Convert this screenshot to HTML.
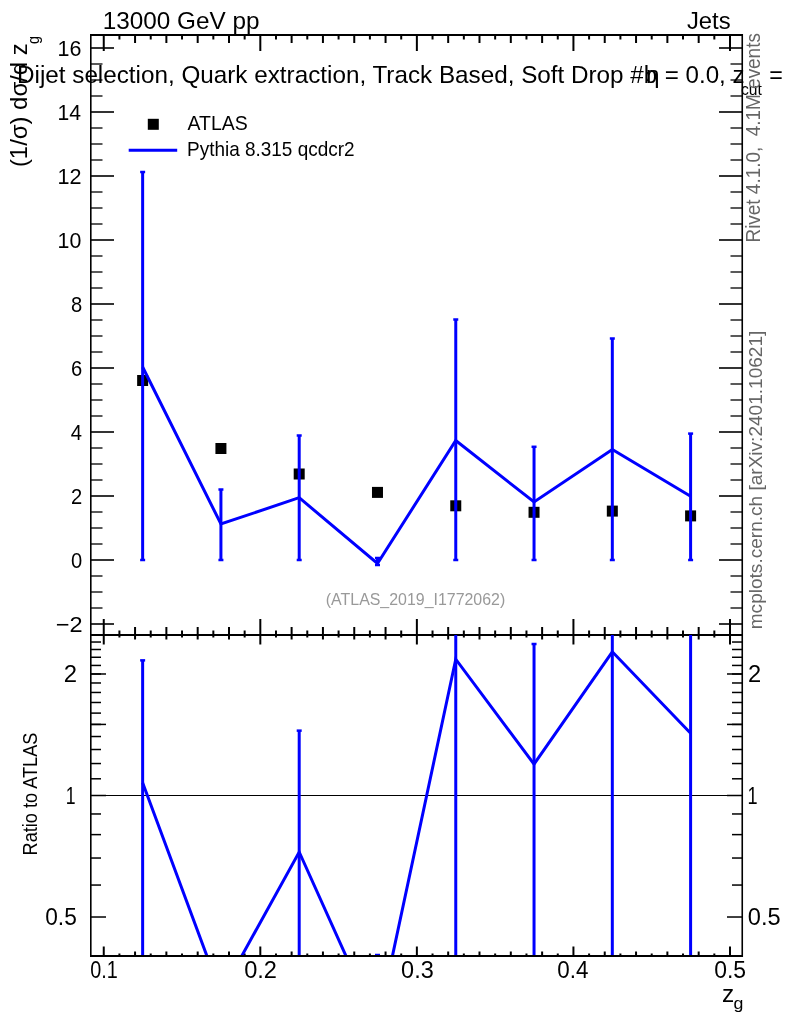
<!DOCTYPE html>
<html><head><meta charset="utf-8"><title>plot</title><style>html,body{margin:0;padding:0;background:#fff;}svg{display:block;}</style></head><body>
<svg width="786" height="1024" viewBox="0 0 786 1024" font-family="'Liberation Sans', Arial, sans-serif">
<rect width="786" height="1024" fill="#fff"/>
<g><line x1="91.00" y1="624.00" x2="114.00" y2="624.00" stroke="#000" stroke-width="1.6"/><line x1="742.00" y1="624.00" x2="719.00" y2="624.00" stroke="#000" stroke-width="1.6"/><line x1="91.00" y1="608.00" x2="102.50" y2="608.00" stroke="#000" stroke-width="1.3"/><line x1="742.00" y1="608.00" x2="730.50" y2="608.00" stroke="#000" stroke-width="1.3"/><line x1="91.00" y1="592.00" x2="102.50" y2="592.00" stroke="#000" stroke-width="1.3"/><line x1="742.00" y1="592.00" x2="730.50" y2="592.00" stroke="#000" stroke-width="1.3"/><line x1="91.00" y1="576.00" x2="102.50" y2="576.00" stroke="#000" stroke-width="1.3"/><line x1="742.00" y1="576.00" x2="730.50" y2="576.00" stroke="#000" stroke-width="1.3"/><line x1="91.00" y1="560.00" x2="114.00" y2="560.00" stroke="#000" stroke-width="1.6"/><line x1="742.00" y1="560.00" x2="719.00" y2="560.00" stroke="#000" stroke-width="1.6"/><line x1="91.00" y1="544.00" x2="102.50" y2="544.00" stroke="#000" stroke-width="1.3"/><line x1="742.00" y1="544.00" x2="730.50" y2="544.00" stroke="#000" stroke-width="1.3"/><line x1="91.00" y1="528.00" x2="102.50" y2="528.00" stroke="#000" stroke-width="1.3"/><line x1="742.00" y1="528.00" x2="730.50" y2="528.00" stroke="#000" stroke-width="1.3"/><line x1="91.00" y1="512.00" x2="102.50" y2="512.00" stroke="#000" stroke-width="1.3"/><line x1="742.00" y1="512.00" x2="730.50" y2="512.00" stroke="#000" stroke-width="1.3"/><line x1="91.00" y1="496.00" x2="114.00" y2="496.00" stroke="#000" stroke-width="1.6"/><line x1="742.00" y1="496.00" x2="719.00" y2="496.00" stroke="#000" stroke-width="1.6"/><line x1="91.00" y1="480.00" x2="102.50" y2="480.00" stroke="#000" stroke-width="1.3"/><line x1="742.00" y1="480.00" x2="730.50" y2="480.00" stroke="#000" stroke-width="1.3"/><line x1="91.00" y1="464.00" x2="102.50" y2="464.00" stroke="#000" stroke-width="1.3"/><line x1="742.00" y1="464.00" x2="730.50" y2="464.00" stroke="#000" stroke-width="1.3"/><line x1="91.00" y1="448.00" x2="102.50" y2="448.00" stroke="#000" stroke-width="1.3"/><line x1="742.00" y1="448.00" x2="730.50" y2="448.00" stroke="#000" stroke-width="1.3"/><line x1="91.00" y1="432.00" x2="114.00" y2="432.00" stroke="#000" stroke-width="1.6"/><line x1="742.00" y1="432.00" x2="719.00" y2="432.00" stroke="#000" stroke-width="1.6"/><line x1="91.00" y1="416.00" x2="102.50" y2="416.00" stroke="#000" stroke-width="1.3"/><line x1="742.00" y1="416.00" x2="730.50" y2="416.00" stroke="#000" stroke-width="1.3"/><line x1="91.00" y1="400.00" x2="102.50" y2="400.00" stroke="#000" stroke-width="1.3"/><line x1="742.00" y1="400.00" x2="730.50" y2="400.00" stroke="#000" stroke-width="1.3"/><line x1="91.00" y1="384.00" x2="102.50" y2="384.00" stroke="#000" stroke-width="1.3"/><line x1="742.00" y1="384.00" x2="730.50" y2="384.00" stroke="#000" stroke-width="1.3"/><line x1="91.00" y1="368.00" x2="114.00" y2="368.00" stroke="#000" stroke-width="1.6"/><line x1="742.00" y1="368.00" x2="719.00" y2="368.00" stroke="#000" stroke-width="1.6"/><line x1="91.00" y1="352.00" x2="102.50" y2="352.00" stroke="#000" stroke-width="1.3"/><line x1="742.00" y1="352.00" x2="730.50" y2="352.00" stroke="#000" stroke-width="1.3"/><line x1="91.00" y1="336.00" x2="102.50" y2="336.00" stroke="#000" stroke-width="1.3"/><line x1="742.00" y1="336.00" x2="730.50" y2="336.00" stroke="#000" stroke-width="1.3"/><line x1="91.00" y1="320.00" x2="102.50" y2="320.00" stroke="#000" stroke-width="1.3"/><line x1="742.00" y1="320.00" x2="730.50" y2="320.00" stroke="#000" stroke-width="1.3"/><line x1="91.00" y1="304.00" x2="114.00" y2="304.00" stroke="#000" stroke-width="1.6"/><line x1="742.00" y1="304.00" x2="719.00" y2="304.00" stroke="#000" stroke-width="1.6"/><line x1="91.00" y1="288.00" x2="102.50" y2="288.00" stroke="#000" stroke-width="1.3"/><line x1="742.00" y1="288.00" x2="730.50" y2="288.00" stroke="#000" stroke-width="1.3"/><line x1="91.00" y1="272.00" x2="102.50" y2="272.00" stroke="#000" stroke-width="1.3"/><line x1="742.00" y1="272.00" x2="730.50" y2="272.00" stroke="#000" stroke-width="1.3"/><line x1="91.00" y1="256.00" x2="102.50" y2="256.00" stroke="#000" stroke-width="1.3"/><line x1="742.00" y1="256.00" x2="730.50" y2="256.00" stroke="#000" stroke-width="1.3"/><line x1="91.00" y1="240.00" x2="114.00" y2="240.00" stroke="#000" stroke-width="1.6"/><line x1="742.00" y1="240.00" x2="719.00" y2="240.00" stroke="#000" stroke-width="1.6"/><line x1="91.00" y1="224.00" x2="102.50" y2="224.00" stroke="#000" stroke-width="1.3"/><line x1="742.00" y1="224.00" x2="730.50" y2="224.00" stroke="#000" stroke-width="1.3"/><line x1="91.00" y1="208.00" x2="102.50" y2="208.00" stroke="#000" stroke-width="1.3"/><line x1="742.00" y1="208.00" x2="730.50" y2="208.00" stroke="#000" stroke-width="1.3"/><line x1="91.00" y1="192.00" x2="102.50" y2="192.00" stroke="#000" stroke-width="1.3"/><line x1="742.00" y1="192.00" x2="730.50" y2="192.00" stroke="#000" stroke-width="1.3"/><line x1="91.00" y1="176.00" x2="114.00" y2="176.00" stroke="#000" stroke-width="1.6"/><line x1="742.00" y1="176.00" x2="719.00" y2="176.00" stroke="#000" stroke-width="1.6"/><line x1="91.00" y1="160.00" x2="102.50" y2="160.00" stroke="#000" stroke-width="1.3"/><line x1="742.00" y1="160.00" x2="730.50" y2="160.00" stroke="#000" stroke-width="1.3"/><line x1="91.00" y1="144.00" x2="102.50" y2="144.00" stroke="#000" stroke-width="1.3"/><line x1="742.00" y1="144.00" x2="730.50" y2="144.00" stroke="#000" stroke-width="1.3"/><line x1="91.00" y1="128.00" x2="102.50" y2="128.00" stroke="#000" stroke-width="1.3"/><line x1="742.00" y1="128.00" x2="730.50" y2="128.00" stroke="#000" stroke-width="1.3"/><line x1="91.00" y1="112.00" x2="114.00" y2="112.00" stroke="#000" stroke-width="1.6"/><line x1="742.00" y1="112.00" x2="719.00" y2="112.00" stroke="#000" stroke-width="1.6"/><line x1="91.00" y1="96.00" x2="102.50" y2="96.00" stroke="#000" stroke-width="1.3"/><line x1="742.00" y1="96.00" x2="730.50" y2="96.00" stroke="#000" stroke-width="1.3"/><line x1="91.00" y1="80.00" x2="102.50" y2="80.00" stroke="#000" stroke-width="1.3"/><line x1="742.00" y1="80.00" x2="730.50" y2="80.00" stroke="#000" stroke-width="1.3"/><line x1="91.00" y1="64.00" x2="102.50" y2="64.00" stroke="#000" stroke-width="1.3"/><line x1="742.00" y1="64.00" x2="730.50" y2="64.00" stroke="#000" stroke-width="1.3"/><line x1="91.00" y1="48.00" x2="114.00" y2="48.00" stroke="#000" stroke-width="1.6"/><line x1="742.00" y1="48.00" x2="719.00" y2="48.00" stroke="#000" stroke-width="1.6"/><line x1="103.75" y1="35.00" x2="103.75" y2="51.00" stroke="#000" stroke-width="2"/><line x1="103.75" y1="635.00" x2="103.75" y2="619.00" stroke="#000" stroke-width="2"/><line x1="103.75" y1="635.00" x2="103.75" y2="644.50" stroke="#000" stroke-width="2"/><line x1="103.75" y1="956.00" x2="103.75" y2="946.50" stroke="#000" stroke-width="2"/><line x1="119.41" y1="35.00" x2="119.41" y2="39.50" stroke="#000" stroke-width="2"/><line x1="119.41" y1="635.00" x2="119.41" y2="630.50" stroke="#000" stroke-width="2"/><line x1="119.41" y1="635.00" x2="119.41" y2="637.50" stroke="#000" stroke-width="2"/><line x1="119.41" y1="956.00" x2="119.41" y2="953.50" stroke="#000" stroke-width="2"/><line x1="135.06" y1="35.00" x2="135.06" y2="43.00" stroke="#000" stroke-width="2"/><line x1="135.06" y1="635.00" x2="135.06" y2="627.00" stroke="#000" stroke-width="2"/><line x1="135.06" y1="635.00" x2="135.06" y2="639.50" stroke="#000" stroke-width="2"/><line x1="135.06" y1="956.00" x2="135.06" y2="951.50" stroke="#000" stroke-width="2"/><line x1="150.72" y1="35.00" x2="150.72" y2="39.50" stroke="#000" stroke-width="2"/><line x1="150.72" y1="635.00" x2="150.72" y2="630.50" stroke="#000" stroke-width="2"/><line x1="150.72" y1="635.00" x2="150.72" y2="637.50" stroke="#000" stroke-width="2"/><line x1="150.72" y1="956.00" x2="150.72" y2="953.50" stroke="#000" stroke-width="2"/><line x1="166.37" y1="35.00" x2="166.37" y2="43.00" stroke="#000" stroke-width="2"/><line x1="166.37" y1="635.00" x2="166.37" y2="627.00" stroke="#000" stroke-width="2"/><line x1="166.37" y1="635.00" x2="166.37" y2="639.50" stroke="#000" stroke-width="2"/><line x1="166.37" y1="956.00" x2="166.37" y2="951.50" stroke="#000" stroke-width="2"/><line x1="182.03" y1="35.00" x2="182.03" y2="39.50" stroke="#000" stroke-width="2"/><line x1="182.03" y1="635.00" x2="182.03" y2="630.50" stroke="#000" stroke-width="2"/><line x1="182.03" y1="635.00" x2="182.03" y2="637.50" stroke="#000" stroke-width="2"/><line x1="182.03" y1="956.00" x2="182.03" y2="953.50" stroke="#000" stroke-width="2"/><line x1="197.69" y1="35.00" x2="197.69" y2="43.00" stroke="#000" stroke-width="2"/><line x1="197.69" y1="635.00" x2="197.69" y2="627.00" stroke="#000" stroke-width="2"/><line x1="197.69" y1="635.00" x2="197.69" y2="639.50" stroke="#000" stroke-width="2"/><line x1="197.69" y1="956.00" x2="197.69" y2="951.50" stroke="#000" stroke-width="2"/><line x1="213.34" y1="35.00" x2="213.34" y2="39.50" stroke="#000" stroke-width="2"/><line x1="213.34" y1="635.00" x2="213.34" y2="630.50" stroke="#000" stroke-width="2"/><line x1="213.34" y1="635.00" x2="213.34" y2="637.50" stroke="#000" stroke-width="2"/><line x1="213.34" y1="956.00" x2="213.34" y2="953.50" stroke="#000" stroke-width="2"/><line x1="229.00" y1="35.00" x2="229.00" y2="43.00" stroke="#000" stroke-width="2"/><line x1="229.00" y1="635.00" x2="229.00" y2="627.00" stroke="#000" stroke-width="2"/><line x1="229.00" y1="635.00" x2="229.00" y2="639.50" stroke="#000" stroke-width="2"/><line x1="229.00" y1="956.00" x2="229.00" y2="951.50" stroke="#000" stroke-width="2"/><line x1="244.65" y1="35.00" x2="244.65" y2="39.50" stroke="#000" stroke-width="2"/><line x1="244.65" y1="635.00" x2="244.65" y2="630.50" stroke="#000" stroke-width="2"/><line x1="244.65" y1="635.00" x2="244.65" y2="637.50" stroke="#000" stroke-width="2"/><line x1="244.65" y1="956.00" x2="244.65" y2="953.50" stroke="#000" stroke-width="2"/><line x1="260.31" y1="35.00" x2="260.31" y2="51.00" stroke="#000" stroke-width="2"/><line x1="260.31" y1="635.00" x2="260.31" y2="619.00" stroke="#000" stroke-width="2"/><line x1="260.31" y1="635.00" x2="260.31" y2="644.50" stroke="#000" stroke-width="2"/><line x1="260.31" y1="956.00" x2="260.31" y2="946.50" stroke="#000" stroke-width="2"/><line x1="275.97" y1="35.00" x2="275.97" y2="39.50" stroke="#000" stroke-width="2"/><line x1="275.97" y1="635.00" x2="275.97" y2="630.50" stroke="#000" stroke-width="2"/><line x1="275.97" y1="635.00" x2="275.97" y2="637.50" stroke="#000" stroke-width="2"/><line x1="275.97" y1="956.00" x2="275.97" y2="953.50" stroke="#000" stroke-width="2"/><line x1="291.62" y1="35.00" x2="291.62" y2="43.00" stroke="#000" stroke-width="2"/><line x1="291.62" y1="635.00" x2="291.62" y2="627.00" stroke="#000" stroke-width="2"/><line x1="291.62" y1="635.00" x2="291.62" y2="639.50" stroke="#000" stroke-width="2"/><line x1="291.62" y1="956.00" x2="291.62" y2="951.50" stroke="#000" stroke-width="2"/><line x1="307.28" y1="35.00" x2="307.28" y2="39.50" stroke="#000" stroke-width="2"/><line x1="307.28" y1="635.00" x2="307.28" y2="630.50" stroke="#000" stroke-width="2"/><line x1="307.28" y1="635.00" x2="307.28" y2="637.50" stroke="#000" stroke-width="2"/><line x1="307.28" y1="956.00" x2="307.28" y2="953.50" stroke="#000" stroke-width="2"/><line x1="322.93" y1="35.00" x2="322.93" y2="43.00" stroke="#000" stroke-width="2"/><line x1="322.93" y1="635.00" x2="322.93" y2="627.00" stroke="#000" stroke-width="2"/><line x1="322.93" y1="635.00" x2="322.93" y2="639.50" stroke="#000" stroke-width="2"/><line x1="322.93" y1="956.00" x2="322.93" y2="951.50" stroke="#000" stroke-width="2"/><line x1="338.59" y1="35.00" x2="338.59" y2="39.50" stroke="#000" stroke-width="2"/><line x1="338.59" y1="635.00" x2="338.59" y2="630.50" stroke="#000" stroke-width="2"/><line x1="338.59" y1="635.00" x2="338.59" y2="637.50" stroke="#000" stroke-width="2"/><line x1="338.59" y1="956.00" x2="338.59" y2="953.50" stroke="#000" stroke-width="2"/><line x1="354.25" y1="35.00" x2="354.25" y2="43.00" stroke="#000" stroke-width="2"/><line x1="354.25" y1="635.00" x2="354.25" y2="627.00" stroke="#000" stroke-width="2"/><line x1="354.25" y1="635.00" x2="354.25" y2="639.50" stroke="#000" stroke-width="2"/><line x1="354.25" y1="956.00" x2="354.25" y2="951.50" stroke="#000" stroke-width="2"/><line x1="369.90" y1="35.00" x2="369.90" y2="39.50" stroke="#000" stroke-width="2"/><line x1="369.90" y1="635.00" x2="369.90" y2="630.50" stroke="#000" stroke-width="2"/><line x1="369.90" y1="635.00" x2="369.90" y2="637.50" stroke="#000" stroke-width="2"/><line x1="369.90" y1="956.00" x2="369.90" y2="953.50" stroke="#000" stroke-width="2"/><line x1="385.56" y1="35.00" x2="385.56" y2="43.00" stroke="#000" stroke-width="2"/><line x1="385.56" y1="635.00" x2="385.56" y2="627.00" stroke="#000" stroke-width="2"/><line x1="385.56" y1="635.00" x2="385.56" y2="639.50" stroke="#000" stroke-width="2"/><line x1="385.56" y1="956.00" x2="385.56" y2="951.50" stroke="#000" stroke-width="2"/><line x1="401.21" y1="35.00" x2="401.21" y2="39.50" stroke="#000" stroke-width="2"/><line x1="401.21" y1="635.00" x2="401.21" y2="630.50" stroke="#000" stroke-width="2"/><line x1="401.21" y1="635.00" x2="401.21" y2="637.50" stroke="#000" stroke-width="2"/><line x1="401.21" y1="956.00" x2="401.21" y2="953.50" stroke="#000" stroke-width="2"/><line x1="416.87" y1="35.00" x2="416.87" y2="51.00" stroke="#000" stroke-width="2"/><line x1="416.87" y1="635.00" x2="416.87" y2="619.00" stroke="#000" stroke-width="2"/><line x1="416.87" y1="635.00" x2="416.87" y2="644.50" stroke="#000" stroke-width="2"/><line x1="416.87" y1="956.00" x2="416.87" y2="946.50" stroke="#000" stroke-width="2"/><line x1="432.53" y1="35.00" x2="432.53" y2="39.50" stroke="#000" stroke-width="2"/><line x1="432.53" y1="635.00" x2="432.53" y2="630.50" stroke="#000" stroke-width="2"/><line x1="432.53" y1="635.00" x2="432.53" y2="637.50" stroke="#000" stroke-width="2"/><line x1="432.53" y1="956.00" x2="432.53" y2="953.50" stroke="#000" stroke-width="2"/><line x1="448.18" y1="35.00" x2="448.18" y2="43.00" stroke="#000" stroke-width="2"/><line x1="448.18" y1="635.00" x2="448.18" y2="627.00" stroke="#000" stroke-width="2"/><line x1="448.18" y1="635.00" x2="448.18" y2="639.50" stroke="#000" stroke-width="2"/><line x1="448.18" y1="956.00" x2="448.18" y2="951.50" stroke="#000" stroke-width="2"/><line x1="463.84" y1="35.00" x2="463.84" y2="39.50" stroke="#000" stroke-width="2"/><line x1="463.84" y1="635.00" x2="463.84" y2="630.50" stroke="#000" stroke-width="2"/><line x1="463.84" y1="635.00" x2="463.84" y2="637.50" stroke="#000" stroke-width="2"/><line x1="463.84" y1="956.00" x2="463.84" y2="953.50" stroke="#000" stroke-width="2"/><line x1="479.49" y1="35.00" x2="479.49" y2="43.00" stroke="#000" stroke-width="2"/><line x1="479.49" y1="635.00" x2="479.49" y2="627.00" stroke="#000" stroke-width="2"/><line x1="479.49" y1="635.00" x2="479.49" y2="639.50" stroke="#000" stroke-width="2"/><line x1="479.49" y1="956.00" x2="479.49" y2="951.50" stroke="#000" stroke-width="2"/><line x1="495.15" y1="35.00" x2="495.15" y2="39.50" stroke="#000" stroke-width="2"/><line x1="495.15" y1="635.00" x2="495.15" y2="630.50" stroke="#000" stroke-width="2"/><line x1="495.15" y1="635.00" x2="495.15" y2="637.50" stroke="#000" stroke-width="2"/><line x1="495.15" y1="956.00" x2="495.15" y2="953.50" stroke="#000" stroke-width="2"/><line x1="510.81" y1="35.00" x2="510.81" y2="43.00" stroke="#000" stroke-width="2"/><line x1="510.81" y1="635.00" x2="510.81" y2="627.00" stroke="#000" stroke-width="2"/><line x1="510.81" y1="635.00" x2="510.81" y2="639.50" stroke="#000" stroke-width="2"/><line x1="510.81" y1="956.00" x2="510.81" y2="951.50" stroke="#000" stroke-width="2"/><line x1="526.46" y1="35.00" x2="526.46" y2="39.50" stroke="#000" stroke-width="2"/><line x1="526.46" y1="635.00" x2="526.46" y2="630.50" stroke="#000" stroke-width="2"/><line x1="526.46" y1="635.00" x2="526.46" y2="637.50" stroke="#000" stroke-width="2"/><line x1="526.46" y1="956.00" x2="526.46" y2="953.50" stroke="#000" stroke-width="2"/><line x1="542.12" y1="35.00" x2="542.12" y2="43.00" stroke="#000" stroke-width="2"/><line x1="542.12" y1="635.00" x2="542.12" y2="627.00" stroke="#000" stroke-width="2"/><line x1="542.12" y1="635.00" x2="542.12" y2="639.50" stroke="#000" stroke-width="2"/><line x1="542.12" y1="956.00" x2="542.12" y2="951.50" stroke="#000" stroke-width="2"/><line x1="557.77" y1="35.00" x2="557.77" y2="39.50" stroke="#000" stroke-width="2"/><line x1="557.77" y1="635.00" x2="557.77" y2="630.50" stroke="#000" stroke-width="2"/><line x1="557.77" y1="635.00" x2="557.77" y2="637.50" stroke="#000" stroke-width="2"/><line x1="557.77" y1="956.00" x2="557.77" y2="953.50" stroke="#000" stroke-width="2"/><line x1="573.43" y1="35.00" x2="573.43" y2="51.00" stroke="#000" stroke-width="2"/><line x1="573.43" y1="635.00" x2="573.43" y2="619.00" stroke="#000" stroke-width="2"/><line x1="573.43" y1="635.00" x2="573.43" y2="644.50" stroke="#000" stroke-width="2"/><line x1="573.43" y1="956.00" x2="573.43" y2="946.50" stroke="#000" stroke-width="2"/><line x1="589.09" y1="35.00" x2="589.09" y2="39.50" stroke="#000" stroke-width="2"/><line x1="589.09" y1="635.00" x2="589.09" y2="630.50" stroke="#000" stroke-width="2"/><line x1="589.09" y1="635.00" x2="589.09" y2="637.50" stroke="#000" stroke-width="2"/><line x1="589.09" y1="956.00" x2="589.09" y2="953.50" stroke="#000" stroke-width="2"/><line x1="604.74" y1="35.00" x2="604.74" y2="43.00" stroke="#000" stroke-width="2"/><line x1="604.74" y1="635.00" x2="604.74" y2="627.00" stroke="#000" stroke-width="2"/><line x1="604.74" y1="635.00" x2="604.74" y2="639.50" stroke="#000" stroke-width="2"/><line x1="604.74" y1="956.00" x2="604.74" y2="951.50" stroke="#000" stroke-width="2"/><line x1="620.40" y1="35.00" x2="620.40" y2="39.50" stroke="#000" stroke-width="2"/><line x1="620.40" y1="635.00" x2="620.40" y2="630.50" stroke="#000" stroke-width="2"/><line x1="620.40" y1="635.00" x2="620.40" y2="637.50" stroke="#000" stroke-width="2"/><line x1="620.40" y1="956.00" x2="620.40" y2="953.50" stroke="#000" stroke-width="2"/><line x1="636.05" y1="35.00" x2="636.05" y2="43.00" stroke="#000" stroke-width="2"/><line x1="636.05" y1="635.00" x2="636.05" y2="627.00" stroke="#000" stroke-width="2"/><line x1="636.05" y1="635.00" x2="636.05" y2="639.50" stroke="#000" stroke-width="2"/><line x1="636.05" y1="956.00" x2="636.05" y2="951.50" stroke="#000" stroke-width="2"/><line x1="651.71" y1="35.00" x2="651.71" y2="39.50" stroke="#000" stroke-width="2"/><line x1="651.71" y1="635.00" x2="651.71" y2="630.50" stroke="#000" stroke-width="2"/><line x1="651.71" y1="635.00" x2="651.71" y2="637.50" stroke="#000" stroke-width="2"/><line x1="651.71" y1="956.00" x2="651.71" y2="953.50" stroke="#000" stroke-width="2"/><line x1="667.37" y1="35.00" x2="667.37" y2="43.00" stroke="#000" stroke-width="2"/><line x1="667.37" y1="635.00" x2="667.37" y2="627.00" stroke="#000" stroke-width="2"/><line x1="667.37" y1="635.00" x2="667.37" y2="639.50" stroke="#000" stroke-width="2"/><line x1="667.37" y1="956.00" x2="667.37" y2="951.50" stroke="#000" stroke-width="2"/><line x1="683.02" y1="35.00" x2="683.02" y2="39.50" stroke="#000" stroke-width="2"/><line x1="683.02" y1="635.00" x2="683.02" y2="630.50" stroke="#000" stroke-width="2"/><line x1="683.02" y1="635.00" x2="683.02" y2="637.50" stroke="#000" stroke-width="2"/><line x1="683.02" y1="956.00" x2="683.02" y2="953.50" stroke="#000" stroke-width="2"/><line x1="698.68" y1="35.00" x2="698.68" y2="43.00" stroke="#000" stroke-width="2"/><line x1="698.68" y1="635.00" x2="698.68" y2="627.00" stroke="#000" stroke-width="2"/><line x1="698.68" y1="635.00" x2="698.68" y2="639.50" stroke="#000" stroke-width="2"/><line x1="698.68" y1="956.00" x2="698.68" y2="951.50" stroke="#000" stroke-width="2"/><line x1="714.33" y1="35.00" x2="714.33" y2="39.50" stroke="#000" stroke-width="2"/><line x1="714.33" y1="635.00" x2="714.33" y2="630.50" stroke="#000" stroke-width="2"/><line x1="714.33" y1="635.00" x2="714.33" y2="637.50" stroke="#000" stroke-width="2"/><line x1="714.33" y1="956.00" x2="714.33" y2="953.50" stroke="#000" stroke-width="2"/><line x1="729.99" y1="35.00" x2="729.99" y2="51.00" stroke="#000" stroke-width="2"/><line x1="729.99" y1="635.00" x2="729.99" y2="619.00" stroke="#000" stroke-width="2"/><line x1="729.99" y1="635.00" x2="729.99" y2="644.50" stroke="#000" stroke-width="2"/><line x1="729.99" y1="956.00" x2="729.99" y2="946.50" stroke="#000" stroke-width="2"/><line x1="91.00" y1="917.01" x2="106.00" y2="917.01" stroke="#000" stroke-width="1.5"/><line x1="742.00" y1="917.01" x2="727.00" y2="917.01" stroke="#000" stroke-width="1.5"/><line x1="91.00" y1="885.05" x2="101.00" y2="885.05" stroke="#000" stroke-width="1.5"/><line x1="742.00" y1="885.05" x2="732.00" y2="885.05" stroke="#000" stroke-width="1.5"/><line x1="91.00" y1="858.03" x2="101.00" y2="858.03" stroke="#000" stroke-width="1.5"/><line x1="742.00" y1="858.03" x2="732.00" y2="858.03" stroke="#000" stroke-width="1.5"/><line x1="91.00" y1="834.62" x2="101.00" y2="834.62" stroke="#000" stroke-width="1.5"/><line x1="742.00" y1="834.62" x2="732.00" y2="834.62" stroke="#000" stroke-width="1.5"/><line x1="91.00" y1="813.97" x2="101.00" y2="813.97" stroke="#000" stroke-width="1.5"/><line x1="742.00" y1="813.97" x2="732.00" y2="813.97" stroke="#000" stroke-width="1.5"/><line x1="91.00" y1="795.50" x2="106.00" y2="795.50" stroke="#000" stroke-width="1.5"/><line x1="742.00" y1="795.50" x2="727.00" y2="795.50" stroke="#000" stroke-width="1.5"/><line x1="91.00" y1="778.79" x2="101.00" y2="778.79" stroke="#000" stroke-width="1.5"/><line x1="742.00" y1="778.79" x2="732.00" y2="778.79" stroke="#000" stroke-width="1.5"/><line x1="91.00" y1="763.54" x2="101.00" y2="763.54" stroke="#000" stroke-width="1.5"/><line x1="742.00" y1="763.54" x2="732.00" y2="763.54" stroke="#000" stroke-width="1.5"/><line x1="91.00" y1="749.51" x2="101.00" y2="749.51" stroke="#000" stroke-width="1.5"/><line x1="742.00" y1="749.51" x2="732.00" y2="749.51" stroke="#000" stroke-width="1.5"/><line x1="91.00" y1="736.52" x2="101.00" y2="736.52" stroke="#000" stroke-width="1.5"/><line x1="742.00" y1="736.52" x2="732.00" y2="736.52" stroke="#000" stroke-width="1.5"/><line x1="91.00" y1="724.42" x2="106.00" y2="724.42" stroke="#000" stroke-width="1.5"/><line x1="742.00" y1="724.42" x2="727.00" y2="724.42" stroke="#000" stroke-width="1.5"/><line x1="91.00" y1="724.42" x2="101.00" y2="724.42" stroke="#000" stroke-width="1.5"/><line x1="742.00" y1="724.42" x2="732.00" y2="724.42" stroke="#000" stroke-width="1.5"/><line x1="91.00" y1="713.11" x2="101.00" y2="713.11" stroke="#000" stroke-width="1.5"/><line x1="742.00" y1="713.11" x2="732.00" y2="713.11" stroke="#000" stroke-width="1.5"/><line x1="91.00" y1="702.48" x2="101.00" y2="702.48" stroke="#000" stroke-width="1.5"/><line x1="742.00" y1="702.48" x2="732.00" y2="702.48" stroke="#000" stroke-width="1.5"/><line x1="91.00" y1="692.46" x2="101.00" y2="692.46" stroke="#000" stroke-width="1.5"/><line x1="742.00" y1="692.46" x2="732.00" y2="692.46" stroke="#000" stroke-width="1.5"/><line x1="91.00" y1="682.98" x2="101.00" y2="682.98" stroke="#000" stroke-width="1.5"/><line x1="742.00" y1="682.98" x2="732.00" y2="682.98" stroke="#000" stroke-width="1.5"/><line x1="91.00" y1="673.99" x2="106.00" y2="673.99" stroke="#000" stroke-width="1.5"/><line x1="742.00" y1="673.99" x2="727.00" y2="673.99" stroke="#000" stroke-width="1.5"/><line x1="91.00" y1="673.99" x2="101.00" y2="673.99" stroke="#000" stroke-width="1.5"/><line x1="742.00" y1="673.99" x2="732.00" y2="673.99" stroke="#000" stroke-width="1.5"/><line x1="91.00" y1="665.44" x2="101.00" y2="665.44" stroke="#000" stroke-width="1.5"/><line x1="742.00" y1="665.44" x2="732.00" y2="665.44" stroke="#000" stroke-width="1.5"/><line x1="91.00" y1="657.28" x2="101.00" y2="657.28" stroke="#000" stroke-width="1.5"/><line x1="742.00" y1="657.28" x2="732.00" y2="657.28" stroke="#000" stroke-width="1.5"/><line x1="91.00" y1="649.49" x2="101.00" y2="649.49" stroke="#000" stroke-width="1.5"/><line x1="742.00" y1="649.49" x2="732.00" y2="649.49" stroke="#000" stroke-width="1.5"/><line x1="91.00" y1="642.03" x2="101.00" y2="642.03" stroke="#000" stroke-width="1.5"/><line x1="742.00" y1="642.03" x2="732.00" y2="642.03" stroke="#000" stroke-width="1.5"/></g>
<line x1="91" y1="795.5" x2="742" y2="795.5" stroke="#000" stroke-width="1.2"/>
<path d="M90.8 34V957M742.25 34V957" stroke="#000" stroke-width="1.6" fill="none"/>
<path d="M90 35H743M90 635H743M90 956H743" stroke="#000" stroke-width="2" fill="none"/>
<rect x="137.14" y="375.00" width="11" height="11" fill="#000"/>
<rect x="215.42" y="443.00" width="11" height="11" fill="#000"/>
<rect x="293.70" y="468.50" width="11" height="11" fill="#000"/>
<rect x="371.98" y="486.90" width="11" height="11" fill="#000"/>
<rect x="450.26" y="500.30" width="11" height="11" fill="#000"/>
<rect x="528.54" y="506.80" width="11" height="11" fill="#000"/>
<rect x="606.82" y="505.60" width="11" height="11" fill="#000"/>
<rect x="685.10" y="510.40" width="11" height="11" fill="#000"/>
<g><line x1="142.64" y1="172.00" x2="142.64" y2="560.00" stroke="#0000ff" stroke-width="3"/><line x1="140.14" y1="172.00" x2="145.14" y2="172.00" stroke="#0000ff" stroke-width="2.5"/><line x1="140.14" y1="560.00" x2="145.14" y2="560.00" stroke="#0000ff" stroke-width="2.5"/><line x1="220.92" y1="489.50" x2="220.92" y2="560.00" stroke="#0000ff" stroke-width="3"/><line x1="218.42" y1="489.50" x2="223.42" y2="489.50" stroke="#0000ff" stroke-width="2.5"/><line x1="218.42" y1="560.00" x2="223.42" y2="560.00" stroke="#0000ff" stroke-width="2.5"/><line x1="299.20" y1="435.50" x2="299.20" y2="560.00" stroke="#0000ff" stroke-width="3"/><line x1="296.70" y1="435.50" x2="301.70" y2="435.50" stroke="#0000ff" stroke-width="2.5"/><line x1="296.70" y1="560.00" x2="301.70" y2="560.00" stroke="#0000ff" stroke-width="2.5"/><line x1="377.48" y1="558.00" x2="377.48" y2="565.00" stroke="#0000ff" stroke-width="3"/><line x1="374.98" y1="558.00" x2="379.98" y2="558.00" stroke="#0000ff" stroke-width="2.5"/><line x1="374.98" y1="565.00" x2="379.98" y2="565.00" stroke="#0000ff" stroke-width="2.5"/><line x1="455.76" y1="319.50" x2="455.76" y2="560.00" stroke="#0000ff" stroke-width="3"/><line x1="453.26" y1="319.50" x2="458.26" y2="319.50" stroke="#0000ff" stroke-width="2.5"/><line x1="453.26" y1="560.00" x2="458.26" y2="560.00" stroke="#0000ff" stroke-width="2.5"/><line x1="534.04" y1="446.80" x2="534.04" y2="560.00" stroke="#0000ff" stroke-width="3"/><line x1="531.54" y1="446.80" x2="536.54" y2="446.80" stroke="#0000ff" stroke-width="2.5"/><line x1="531.54" y1="560.00" x2="536.54" y2="560.00" stroke="#0000ff" stroke-width="2.5"/><line x1="612.32" y1="338.50" x2="612.32" y2="560.00" stroke="#0000ff" stroke-width="3"/><line x1="609.82" y1="338.50" x2="614.82" y2="338.50" stroke="#0000ff" stroke-width="2.5"/><line x1="609.82" y1="560.00" x2="614.82" y2="560.00" stroke="#0000ff" stroke-width="2.5"/><line x1="690.60" y1="433.60" x2="690.60" y2="560.00" stroke="#0000ff" stroke-width="3"/><line x1="688.10" y1="433.60" x2="693.10" y2="433.60" stroke="#0000ff" stroke-width="2.5"/><line x1="688.10" y1="560.00" x2="693.10" y2="560.00" stroke="#0000ff" stroke-width="2.5"/><polyline points="142.64,367.00 220.92,524.00 299.20,497.70 377.48,563.50 455.76,440.50 534.04,502.00 612.32,449.50 690.60,496.30" fill="none" stroke="#0000ff" stroke-width="3" stroke-linejoin="miter"/></g>
<clipPath id="cl"><rect x="91" y="635" width="651" height="320"/></clipPath>
<g clip-path="url(#cl)"><line x1="142.64" y1="660.37" x2="142.64" y2="956.00" stroke="#0000ff" stroke-width="3"/><line x1="140.14" y1="660.37" x2="145.14" y2="660.37" stroke="#0000ff" stroke-width="2.5"/><line x1="299.20" y1="730.65" x2="299.20" y2="956.00" stroke="#0000ff" stroke-width="3"/><line x1="296.70" y1="730.65" x2="301.70" y2="730.65" stroke="#0000ff" stroke-width="2.5"/><line x1="455.76" y1="635.00" x2="455.76" y2="956.00" stroke="#0000ff" stroke-width="3"/><line x1="534.04" y1="644.00" x2="534.04" y2="956.00" stroke="#0000ff" stroke-width="3"/><line x1="531.54" y1="644.00" x2="536.54" y2="644.00" stroke="#0000ff" stroke-width="2.5"/><line x1="612.32" y1="635.00" x2="612.32" y2="956.00" stroke="#0000ff" stroke-width="3"/><line x1="690.60" y1="635.00" x2="690.60" y2="956.00" stroke="#0000ff" stroke-width="3"/><line x1="374.98" y1="954.5" x2="379.98" y2="954.5" stroke="#0000ff" stroke-width="1.5"/><polyline points="142.64,782.70 220.92,993.70 299.20,852.00 377.48,1026.00 455.76,659.20 534.04,764.20 612.32,651.80 690.60,733.30" fill="none" stroke="#0000ff" stroke-width="3"/></g>
<rect x="147.80" y="118.80" width="11" height="11" fill="#000"/>
<line x1="128.7" y1="150.3" x2="177.2" y2="150.3" stroke="#0000ff" stroke-width="3"/>
<g><text x="102.75" y="28.60" font-size="24.30" fill="#000" textLength="156.66" lengthAdjust="spacingAndGlyphs">13000 GeV pp</text><text x="686.92" y="28.80" font-size="24.30" fill="#000" textLength="43.74" lengthAdjust="spacingAndGlyphs">Jets</text><text x="55.85" y="632.30" font-size="22.40" fill="#000" textLength="26.83" lengthAdjust="spacingAndGlyphs">−2</text><text x="70.88" y="568.30" font-size="22.40" fill="#000" textLength="11.21" lengthAdjust="spacingAndGlyphs">0</text><text x="71.10" y="504.30" font-size="22.40" fill="#000" textLength="11.21" lengthAdjust="spacingAndGlyphs">2</text><text x="70.68" y="440.30" font-size="22.40" fill="#000" textLength="11.21" lengthAdjust="spacingAndGlyphs">4</text><text x="70.98" y="376.30" font-size="22.40" fill="#000" textLength="11.21" lengthAdjust="spacingAndGlyphs">6</text><text x="70.96" y="312.30" font-size="22.40" fill="#000" textLength="11.21" lengthAdjust="spacingAndGlyphs">8</text><text x="57.58" y="248.30" font-size="22.40" fill="#000" textLength="23.76" lengthAdjust="spacingAndGlyphs">10</text><text x="57.56" y="184.30" font-size="22.40" fill="#000" textLength="24.03" lengthAdjust="spacingAndGlyphs">12</text><text x="57.59" y="120.30" font-size="22.40" fill="#000" textLength="23.53" lengthAdjust="spacingAndGlyphs">14</text><text x="57.57" y="56.30" font-size="22.40" fill="#000" textLength="23.88" lengthAdjust="spacingAndGlyphs">16</text><text x="63.70" y="682.40" font-size="23.00" fill="#000" textLength="13.29" lengthAdjust="spacingAndGlyphs">2</text><text x="65.66" y="804.40" font-size="23.00" fill="#000" textLength="9.81" lengthAdjust="spacingAndGlyphs">1</text><text x="45.22" y="924.60" font-size="23.00" fill="#000" textLength="31.54" lengthAdjust="spacingAndGlyphs">0.5</text><text x="747.92" y="682.40" font-size="23.00" fill="#000" textLength="13.17" lengthAdjust="spacingAndGlyphs">2</text><text x="747.62" y="804.40" font-size="23.00" fill="#000" textLength="10.07" lengthAdjust="spacingAndGlyphs">1</text><text x="747.78" y="924.80" font-size="23.00" fill="#000" textLength="32.82" lengthAdjust="spacingAndGlyphs">0.5</text><text x="90.33" y="977.80" font-size="23.20" fill="#000" textLength="27.55" lengthAdjust="spacingAndGlyphs">0.1</text><text x="244.18" y="977.80" font-size="23.20" fill="#000" textLength="32.80" lengthAdjust="spacingAndGlyphs">0.2</text><text x="401.08" y="977.80" font-size="23.20" fill="#000" textLength="32.65" lengthAdjust="spacingAndGlyphs">0.3</text><text x="557.33" y="977.80" font-size="23.20" fill="#000" textLength="31.13" lengthAdjust="spacingAndGlyphs">0.4</text><text x="714.21" y="977.80" font-size="23.20" fill="#000" textLength="31.86" lengthAdjust="spacingAndGlyphs">0.5</text><text x="722.00" y="1001.50" font-size="24.00" fill="#000" textLength="12.22" lengthAdjust="spacingAndGlyphs">z</text><text x="733.55" y="1008.50" font-size="17.00" fill="#000" textLength="9.89" lengthAdjust="spacingAndGlyphs">g</text><text x="187.56" y="129.60" font-size="19.80" fill="#000" textLength="60.33" lengthAdjust="spacingAndGlyphs">ATLAS</text><text x="187.05" y="155.60" font-size="19.80" fill="#000" textLength="167.50" lengthAdjust="spacingAndGlyphs">Pythia 8.315 qcdcr2</text><text x="325.81" y="604.60" font-size="15.60" fill="#999" textLength="179.47" lengthAdjust="spacingAndGlyphs">(ATLAS_2019_I1772062)</text><text x="17.01" y="82.80" font-size="24.20" fill="#000" textLength="640.31" lengthAdjust="spacingAndGlyphs">Dijet selection, Quark extraction, Track Based, Soft Drop #b</text><text x="645.93" y="82.80" font-size="24.20" fill="#000" textLength="13.56" lengthAdjust="spacingAndGlyphs">η</text><text x="664.72" y="82.80" font-size="24.20" fill="#000" textLength="79.88" lengthAdjust="spacingAndGlyphs">= 0.0, z</text><text x="740.94" y="94.60" font-size="16.50" fill="#000" textLength="20.87" lengthAdjust="spacingAndGlyphs">cut</text><text x="769.16" y="82.80" font-size="24.20" fill="#000" textLength="13.58" lengthAdjust="spacingAndGlyphs">=</text></g>
<g transform="rotate(-90)"><text x="-167.08" y="27.30" font-size="24.00" fill="#000" textLength="123.68" lengthAdjust="spacingAndGlyphs">(1/σ) dσ/d z</text></g><g transform="rotate(-90)"><text x="-44.11" y="38.50" font-size="17.00" fill="#000" textLength="8.03" lengthAdjust="spacingAndGlyphs">g</text></g><g transform="rotate(-90)"><text x="-855.49" y="36.50" font-size="20.00" fill="#000" textLength="122.92" lengthAdjust="spacingAndGlyphs">Ratio to ATLAS</text></g><g transform="rotate(-90)"><text x="-242.55" y="760.00" font-size="20.00" fill="#666" textLength="209.44" lengthAdjust="spacingAndGlyphs">Rivet 4.1.0,  4.1M events</text></g><g transform="rotate(-90)"><text x="-629.26" y="761.60" font-size="19.00" fill="#666" textLength="298.60" lengthAdjust="spacingAndGlyphs">mcplots.cern.ch [arXiv:2401.10621]</text></g>
</svg>
</body></html>
